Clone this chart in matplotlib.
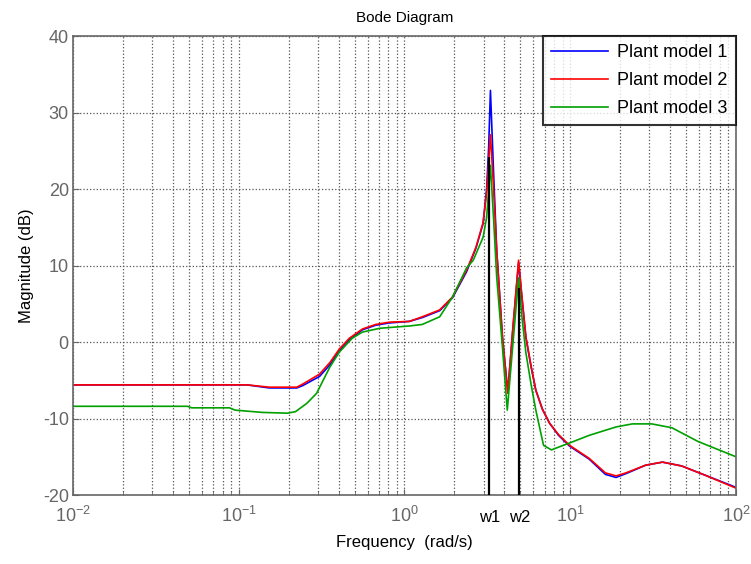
import matplotlib
matplotlib.use("Agg")
import matplotlib.pyplot as plt
from matplotlib.ticker import LogLocator, NullFormatter
import matplotlib.transforms as mtransforms

plt.rcParams['font.family'] = ['Liberation Sans', 'DejaVu Sans']
plt.rcParams['mathtext.default'] = 'regular'
plt.rcParams['axes.unicode_minus'] = False

# frequency (rad/s) and magnitude (dB)
w_p1 = [0.01, 0.112, 0.153, 0.224, 0.243, 0.307, 0.354, 0.405, 0.465, 0.557, 0.67, 0.81,
        1.07, 1.28, 1.63, 1.95, 2.37, 2.7, 2.98, 3.13, 3.22, 3.3, 3.45, 3.6, 3.9, 4.2, 4.5, 4.88, 5.1, 5.4,
        5.8, 6.2, 6.8, 7.5, 8.5, 9.9, 13, 16.3, 18.9, 21.7, 28.5, 36, 47, 65, 100]
mag_p1 = [-5.6, -5.6, -6.0, -6.0, -5.7, -4.5, -3.0, -1.1, 0.3, 1.6, 2.2, 2.5,
          2.7, 3.2, 4.1, 5.8, 9.2, 12.3, 15.5, 20.0, 25.5, 32.9, 22.0, 12.0, 0.6, -6.5, 1.5, 10.4, 6.0, 0.6,
          -3.2, -6.3, -8.8, -10.6, -12.2, -13.6, -15.3, -17.3, -17.7, -17.2, -16.1, -15.7, -16.2, -17.4, -19.0]

w_p2 = [0.01, 0.112, 0.153, 0.224, 0.243, 0.307, 0.354, 0.405, 0.465, 0.557, 0.67, 0.81,
        1.07, 1.28, 1.63, 1.95, 2.37, 2.7, 2.98, 3.13, 3.22, 3.3, 3.45, 3.6, 3.9, 4.2, 4.5, 4.88, 5.1, 5.4,
        5.8, 6.2, 6.8, 7.5, 8.5, 9.9, 13, 16.3, 18.9, 21.7, 28.5, 36, 47, 65, 100]
mag_p2 = [-5.6, -5.6, -5.9, -5.9, -5.5, -4.2, -2.7, -0.9, 0.5, 1.7, 2.3, 2.6,
          2.7, 3.3, 4.2, 5.9, 9.4, 12.4, 15.6, 19.5, 23.5, 27.1, 20.0, 12.0, 0.7, -6.7, 1.7, 10.7, 6.2, 0.7,
          -3.1, -6.3, -8.8, -10.6, -12.1, -13.5, -15.2, -17.1, -17.5, -17.1, -16.1, -15.7, -16.2, -17.4, -19.1]

w_p3 = [0.01, 0.049, 0.052, 0.088, 0.095, 0.139, 0.197, 0.22, 0.258, 0.295, 0.354, 0.405,
        0.484, 0.557, 0.71, 1.07, 1.28, 1.63, 1.95, 2.37, 2.6, 2.98, 3.13, 3.22, 3.3, 3.45, 3.6, 3.9,
        4.17, 4.5, 4.88, 5.1, 5.4, 5.8, 6.2, 6.9, 7.7, 8.6, 9.9, 13, 18.9, 23.7, 31, 41, 59, 100]
mag_p3 = [-8.4, -8.4, -8.6, -8.6, -8.9, -9.2, -9.3, -9.1, -8.0, -6.7, -3.3, -1.3,
          0.5, 1.3, 1.8, 2.1, 2.3, 3.3, 5.9, 9.7, 10.7, 13.7, 16.3, 19.8, 23.1, 16.0, 8.5, -0.7,
          -8.9, -0.5, 8.4, 3.5, -1.4, -5.5, -8.9, -13.5, -14.1, -13.7, -13.2, -12.2, -11.1, -10.7, -10.7, -11.2, -13.0, -15.0]

marks = ['w1', 'w2']
mark_w = [3.25, 4.93]
mark_top = [24.2, 7.1]

fig = plt.figure(figsize=(7.51, 5.64), dpi=100)
ax = fig.add_axes([0.0972, 0.1223, 0.8828, 0.8137])

ax.plot(w_p1, mag_p1, color='#0000ff', lw=1.2, label='Plant model 1')
ax.plot(w_p2, mag_p2, color='#ff0000', lw=1.2, label='Plant model 2')
ax.plot(w_p3, mag_p3, color='#00a000', lw=1.2, label='Plant model 3')
ax.vlines(mark_w, -20, mark_top, color='black', lw=1.6, zorder=4)

ax.set_xscale('log')
ax.set_xlim(0.01, 100)
ax.set_ylim(-20, 40)
ax.set_yticks(range(-20, 41, 10))
ax.xaxis.set_major_locator(LogLocator(base=10, numticks=10))
ax.xaxis.set_minor_locator(LogLocator(base=10, subs=range(2, 10), numticks=20))
ax.xaxis.set_minor_formatter(NullFormatter())

ax.grid(True, which='both', axis='x', linestyle=':', color='#555555', lw=0.9)
ax.grid(True, which='major', axis='y', linestyle=':', color='#555555', lw=0.9)

for s in ax.spines.values():
    s.set_color('#666666')
    s.set_linewidth(1.2)
ax.tick_params(which='both', direction='in', colors='#666666', labelsize=13, top=False, right=False)
ax.tick_params(which='major', length=4)
ax.tick_params(which='minor', length=3)
ax.tick_params(axis='x', pad=8)
ax.tick_params(axis='y', pad=3)

trans = mtransforms.blended_transform_factory(ax.transData, ax.transAxes)
for lbl, wv in zip(marks, mark_w):
    ax.text(wv, -0.033, lbl, transform=trans, ha='center', va='top', fontsize=12, color='black')

ax.set_title('Bode Diagram', fontsize=11, pad=10)
ax.set_xlabel('Frequency  (rad/s)', fontsize=12, labelpad=6)
ax.set_ylabel('Magnitude (dB)', fontsize=12, labelpad=6)

leg = ax.legend(loc='upper right', fontsize=13, frameon=True, fancybox=False,
                handlelength=3.2, handletextpad=0.5, borderaxespad=0.0,
                labelspacing=0.6, borderpad=0.45)
leg.get_frame().set_edgecolor('black')
leg.get_frame().set_linewidth(1.5)

fig.savefig('out.png', dpi=100)
